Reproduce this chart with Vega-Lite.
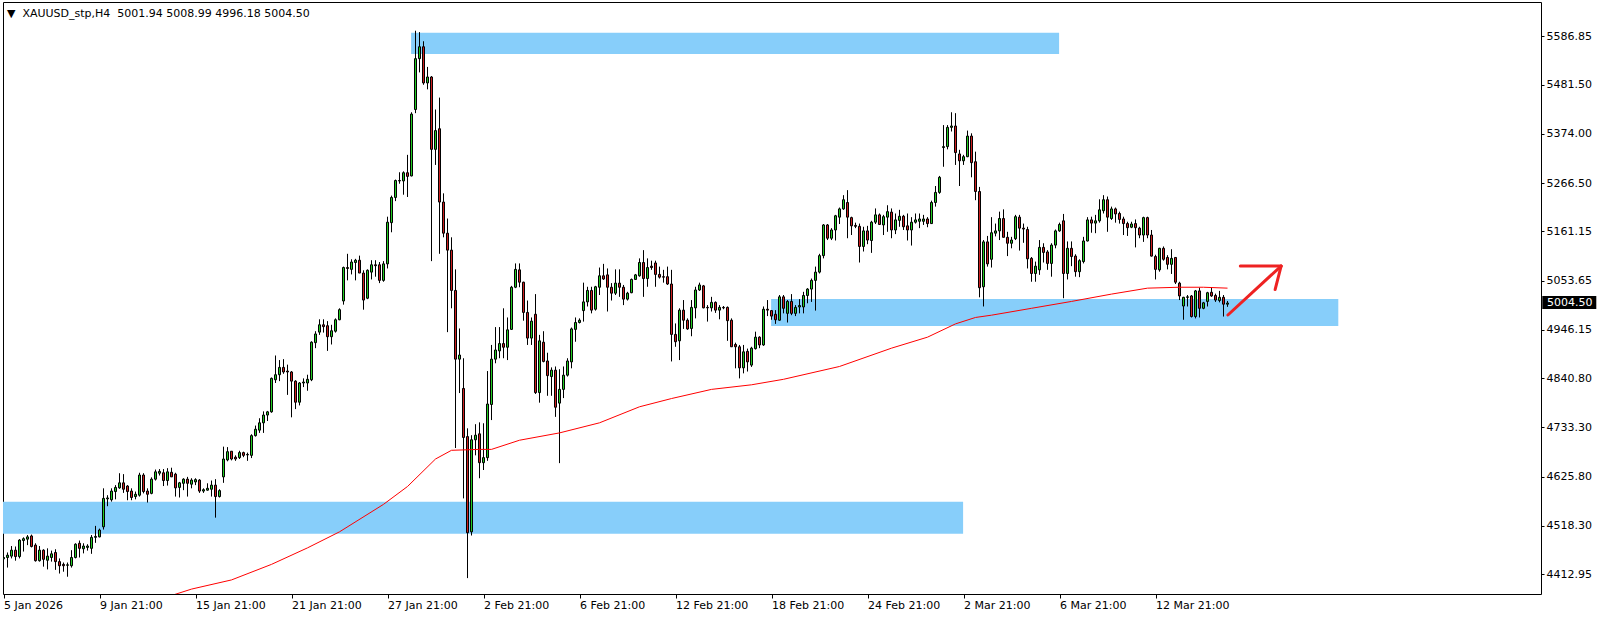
{
"$schema":"https://vega.github.io/schema/vega-lite/v6.json",
"width":1538,"height":592,
"autosize":{"type":"none"},
"padding":{"left":3,"top":2,"right":63,"bottom":23},
"background":"white",
"config":{"view":{"stroke":"black","strokeWidth":1},"font":"DejaVu Sans","scale":{"continuousPadding":0}},
"title":{"text":"▼ \u00a0XAUUSD_stp,H4 \u00a05001.94 5008.99 4996.18 5004.50","anchor":"start","frame":"group","offset":-17,"dx":4,"fontSize":11,"font":"DejaVu Sans","fontWeight":"normal","color":"black"},
"datasets":{
"zones":[{"i":101.9,"i2":263.9,"t":5594.7,"b":5548.2},{"i":-0.2,"i2":239.9,"t":4570.8,"b":4500.9},{"i":191.9,"i2":333.7,"t":5013.3,"b":4954.4}],
"arrow":[{"i":306.1,"p":4978.4,"i2":319.4,"p2":5085.3},{"i":309.2,"p":5085.3,"i2":319.4,"p2":5085.3},{"i":319.4,"p":5085.3,"i2":317.9,"p2":5034}],
"tag":[{"a":384.7,"b":398.2,"t":5019.9,"u":4991.5,"tx":385.9,"p":5004.5,"label":"5004.50"}],
"ma":[{"i":42,"v":4366},{"i":47,"v":4380},{"i":57,"v":4400},{"i":67,"v":4434},{"i":76,"v":4470},{"i":84,"v":4505},{"i":95,"v":4565},{"i":101,"v":4604},{"i":108,"v":4664},{"i":112,"v":4683},{"i":119,"v":4685},{"i":122,"v":4685},{"i":129,"v":4705},{"i":139,"v":4721},{"i":149,"v":4743},{"i":159,"v":4778},{"i":167,"v":4796},{"i":177,"v":4816},{"i":187,"v":4826},{"i":195,"v":4838},{"i":209,"v":4866},{"i":222,"v":4906},{"i":231,"v":4930},{"i":238,"v":4959},{"i":243,"v":4973},{"i":247,"v":4978},{"i":257,"v":4993},{"i":267,"v":5008},{"i":277,"v":5024},{"i":286,"v":5037},{"i":294,"v":5039},{"i":300,"v":5039},{"i":306,"v":5037}],
"candles":[
{"i":0,"o":4446,"h":4452,"l":4432,"c":4449},
{"i":1,"o":4449,"h":4460,"l":4427,"c":4454},
{"i":2,"o":4452,"h":4474,"l":4447,"c":4465},
{"i":3,"o":4465,"h":4473,"l":4442,"c":4451},
{"i":4,"o":4451,"h":4489,"l":4447,"c":4487},
{"i":5,"o":4486,"h":4493,"l":4462,"c":4490},
{"i":6,"o":4489,"h":4498,"l":4476,"c":4494},
{"i":7,"o":4496,"h":4499,"l":4471,"c":4473},
{"i":8,"o":4476,"h":4480,"l":4440,"c":4442},
{"i":9,"o":4442,"h":4474,"l":4440,"c":4465},
{"i":10,"o":4465,"h":4467,"l":4429,"c":4445},
{"i":11,"o":4443,"h":4469,"l":4423,"c":4452},
{"i":12,"o":4449,"h":4464,"l":4440,"c":4457},
{"i":13,"o":4460,"h":4467,"l":4422,"c":4440},
{"i":14,"o":4440,"h":4447,"l":4414,"c":4431},
{"i":15,"o":4434,"h":4438,"l":4418,"c":4431},
{"i":16,"o":4432,"h":4438,"l":4407,"c":4433},
{"i":17,"o":4431,"h":4465,"l":4427,"c":4449},
{"i":18,"o":4449,"h":4480,"l":4447,"c":4478},
{"i":19,"o":4480,"h":4486,"l":4449,"c":4469},
{"i":20,"o":4468,"h":4480,"l":4458,"c":4474},
{"i":21,"o":4471,"h":4478,"l":4464,"c":4474},
{"i":22,"o":4469,"h":4498,"l":4457,"c":4493},
{"i":23,"o":4493,"h":4518,"l":4481,"c":4495},
{"i":24,"o":4494,"h":4512,"l":4493,"c":4509},
{"i":25,"o":4516,"h":4600,"l":4510,"c":4578},
{"i":26,"o":4577,"h":4585,"l":4561,"c":4579},
{"i":27,"o":4575,"h":4600,"l":4571,"c":4594},
{"i":28,"o":4593,"h":4607,"l":4576,"c":4602},
{"i":29,"o":4601,"h":4633,"l":4599,"c":4612},
{"i":30,"o":4612,"h":4631,"l":4590,"c":4598},
{"i":31,"o":4605,"h":4607,"l":4574,"c":4593},
{"i":32,"o":4594,"h":4600,"l":4574,"c":4580},
{"i":33,"o":4582,"h":4593,"l":4576,"c":4587},
{"i":34,"o":4585,"h":4634,"l":4582,"c":4629},
{"i":35,"o":4629,"h":4633,"l":4589,"c":4593},
{"i":36,"o":4594,"h":4600,"l":4569,"c":4587},
{"i":37,"o":4589,"h":4624,"l":4587,"c":4620},
{"i":38,"o":4620,"h":4641,"l":4617,"c":4636},
{"i":39,"o":4633,"h":4642,"l":4628,"c":4637},
{"i":40,"o":4634,"h":4642,"l":4605,"c":4617},
{"i":41,"o":4617,"h":4644,"l":4606,"c":4636},
{"i":42,"o":4635,"h":4645,"l":4625,"c":4625},
{"i":43,"o":4631,"h":4634,"l":4582,"c":4601},
{"i":44,"o":4602,"h":4614,"l":4580,"c":4612},
{"i":45,"o":4611,"h":4622,"l":4596,"c":4620},
{"i":46,"o":4620,"h":4625,"l":4582,"c":4611},
{"i":47,"o":4609,"h":4622,"l":4600,"c":4618},
{"i":48,"o":4614,"h":4622,"l":4607,"c":4619},
{"i":49,"o":4618,"h":4620,"l":4590,"c":4594},
{"i":50,"o":4594,"h":4600,"l":4590,"c":4597},
{"i":51,"o":4596,"h":4611,"l":4595,"c":4600},
{"i":52,"o":4598,"h":4617,"l":4582,"c":4607},
{"i":53,"o":4607,"h":4620,"l":4536,"c":4582},
{"i":54,"o":4582,"h":4598,"l":4580,"c":4595},
{"i":55,"o":4625,"h":4691,"l":4612,"c":4664},
{"i":56,"o":4662,"h":4690,"l":4659,"c":4680},
{"i":57,"o":4681,"h":4681,"l":4661,"c":4664},
{"i":58,"o":4668,"h":4672,"l":4660,"c":4664},
{"i":59,"o":4667,"h":4682,"l":4664,"c":4678},
{"i":60,"o":4678,"h":4680,"l":4668,"c":4672},
{"i":61,"o":4673,"h":4678,"l":4660,"c":4674},
{"i":62,"o":4672,"h":4718,"l":4666,"c":4715},
{"i":63,"o":4715,"h":4737,"l":4713,"c":4729},
{"i":64,"o":4727,"h":4753,"l":4721,"c":4743},
{"i":65,"o":4743,"h":4768,"l":4721,"c":4760},
{"i":66,"o":4760,"h":4769,"l":4747,"c":4767},
{"i":67,"o":4767,"h":4842,"l":4765,"c":4840},
{"i":68,"o":4837,"h":4890,"l":4830,"c":4848},
{"i":69,"o":4848,"h":4880,"l":4834,"c":4864},
{"i":70,"o":4864,"h":4882,"l":4850,"c":4854},
{"i":71,"o":4856,"h":4870,"l":4804,"c":4854},
{"i":72,"o":4854,"h":4856,"l":4755,"c":4834},
{"i":73,"o":4834,"h":4836,"l":4773,"c":4788},
{"i":74,"o":4788,"h":4832,"l":4781,"c":4830},
{"i":75,"o":4830,"h":4840,"l":4821,"c":4832},
{"i":76,"o":4830,"h":4848,"l":4813,"c":4838},
{"i":77,"o":4837,"h":4921,"l":4834,"c":4919},
{"i":78,"o":4918,"h":4943,"l":4906,"c":4937},
{"i":79,"o":4941,"h":4969,"l":4935,"c":4957},
{"i":80,"o":4957,"h":4969,"l":4940,"c":4953},
{"i":81,"o":4955,"h":4965,"l":4900,"c":4931},
{"i":82,"o":4931,"h":4957,"l":4914,"c":4944},
{"i":83,"o":4943,"h":4971,"l":4940,"c":4968},
{"i":84,"o":4968,"h":4993,"l":4967,"c":4990},
{"i":85,"o":5009,"h":5084,"l":5001,"c":5082},
{"i":86,"o":5082,"h":5112,"l":5054,"c":5080},
{"i":87,"o":5078,"h":5100,"l":5067,"c":5094},
{"i":88,"o":5093,"h":5101,"l":5054,"c":5098},
{"i":89,"o":5098,"h":5108,"l":5070,"c":5070},
{"i":90,"o":5070,"h":5076,"l":4990,"c":5011},
{"i":91,"o":5015,"h":5078,"l":5013,"c":5076},
{"i":92,"o":5072,"h":5098,"l":5056,"c":5088},
{"i":93,"o":5088,"h":5098,"l":5062,"c":5086},
{"i":94,"o":5088,"h":5094,"l":5048,"c":5054},
{"i":95,"o":5054,"h":5096,"l":5051,"c":5090},
{"i":96,"o":5090,"h":5193,"l":5080,"c":5181},
{"i":97,"o":5180,"h":5239,"l":5159,"c":5235},
{"i":98,"o":5235,"h":5274,"l":5227,"c":5272},
{"i":99,"o":5271,"h":5290,"l":5265,"c":5272},
{"i":100,"o":5271,"h":5292,"l":5241,"c":5289},
{"i":101,"o":5289,"h":5328,"l":5236,"c":5281},
{"i":102,"o":5282,"h":5421,"l":5281,"c":5417},
{"i":103,"o":5427,"h":5599,"l":5419,"c":5538},
{"i":104,"o":5538,"h":5596,"l":5508,"c":5564},
{"i":105,"o":5564,"h":5576,"l":5481,"c":5485},
{"i":106,"o":5485,"h":5520,"l":5471,"c":5498},
{"i":107,"o":5498,"h":5500,"l":5096,"c":5340},
{"i":108,"o":5340,"h":5427,"l":5306,"c":5381},
{"i":109,"o":5385,"h":5453,"l":5112,"c":5225},
{"i":110,"o":5225,"h":5244,"l":5148,"c":5157},
{"i":111,"o":5157,"h":5189,"l":4941,"c":5120},
{"i":112,"o":5120,"h":5148,"l":4993,"c":5032},
{"i":113,"o":5032,"h":5078,"l":4688,"c":4882},
{"i":114,"o":4882,"h":4949,"l":4808,"c":4891},
{"i":115,"o":4818,"h":4884,"l":4578,"c":4711},
{"i":116,"o":4713,"h":4731,"l":4404,"c":4503},
{"i":117,"o":4505,"h":4716,"l":4497,"c":4706},
{"i":118,"o":4706,"h":4740,"l":4672,"c":4716},
{"i":119,"o":4719,"h":4744,"l":4622,"c":4656},
{"i":120,"o":4656,"h":4742,"l":4640,"c":4667},
{"i":121,"o":4667,"h":4856,"l":4660,"c":4784},
{"i":122,"o":4783,"h":4913,"l":4749,"c":4882},
{"i":123,"o":4882,"h":4952,"l":4873,"c":4902},
{"i":124,"o":4900,"h":4952,"l":4884,"c":4916},
{"i":125,"o":4916,"h":4993,"l":4884,"c":4908},
{"i":126,"o":4908,"h":4973,"l":4880,"c":4946},
{"i":127,"o":4947,"h":5042,"l":4946,"c":5039},
{"i":128,"o":5039,"h":5091,"l":5037,"c":5078},
{"i":129,"o":5077,"h":5091,"l":5039,"c":5050},
{"i":130,"o":5050,"h":5051,"l":4966,"c":4984},
{"i":131,"o":4984,"h":5010,"l":4913,"c":4928},
{"i":132,"o":4928,"h":4973,"l":4913,"c":4965},
{"i":133,"o":4980,"h":5024,"l":4806,"c":4809},
{"i":134,"o":4809,"h":4935,"l":4787,"c":4922},
{"i":135,"o":4919,"h":4943,"l":4875,"c":4877},
{"i":136,"o":4878,"h":4896,"l":4802,"c":4846},
{"i":137,"o":4844,"h":4864,"l":4802,"c":4858},
{"i":138,"o":4858,"h":4866,"l":4756,"c":4777},
{"i":139,"o":4786,"h":4860,"l":4655,"c":4816},
{"i":140,"o":4816,"h":4866,"l":4797,"c":4847},
{"i":141,"o":4847,"h":4884,"l":4844,"c":4878},
{"i":142,"o":4876,"h":4951,"l":4862,"c":4948},
{"i":143,"o":4947,"h":4973,"l":4920,"c":4962},
{"i":144,"o":4962,"h":4971,"l":4960,"c":4967},
{"i":145,"o":4988,"h":5049,"l":4964,"c":5007},
{"i":146,"o":5007,"h":5040,"l":4997,"c":5032},
{"i":147,"o":5032,"h":5040,"l":4982,"c":4989},
{"i":148,"o":4991,"h":5042,"l":4988,"c":5040},
{"i":149,"o":5039,"h":5082,"l":5022,"c":5064},
{"i":150,"o":5064,"h":5090,"l":5055,"c":5057},
{"i":151,"o":5066,"h":5080,"l":4986,"c":5039},
{"i":152,"o":5039,"h":5048,"l":5010,"c":5026},
{"i":153,"o":5026,"h":5078,"l":5022,"c":5048},
{"i":154,"o":5048,"h":5078,"l":5018,"c":5039},
{"i":155,"o":5039,"h":5044,"l":5000,"c":5013},
{"i":156,"o":5013,"h":5029,"l":5010,"c":5026},
{"i":157,"o":5027,"h":5058,"l":5026,"c":5056},
{"i":158,"o":5056,"h":5068,"l":5055,"c":5066},
{"i":159,"o":5064,"h":5102,"l":5062,"c":5093},
{"i":160,"o":5093,"h":5120,"l":5018,"c":5058},
{"i":161,"o":5058,"h":5102,"l":5040,"c":5082},
{"i":162,"o":5085,"h":5097,"l":5077,"c":5082},
{"i":163,"o":5092,"h":5097,"l":5040,"c":5067},
{"i":164,"o":5067,"h":5084,"l":5058,"c":5061},
{"i":165,"o":5062,"h":5077,"l":5049,"c":5061},
{"i":166,"o":5062,"h":5084,"l":5044,"c":5046},
{"i":167,"o":5046,"h":5077,"l":4877,"c":4936},
{"i":168,"o":4936,"h":4960,"l":4909,"c":4920},
{"i":169,"o":4922,"h":4993,"l":4880,"c":4989},
{"i":170,"o":4989,"h":5011,"l":4948,"c":4967},
{"i":171,"o":4967,"h":4971,"l":4946,"c":4948},
{"i":172,"o":4949,"h":5011,"l":4932,"c":4995},
{"i":173,"o":4994,"h":5040,"l":4971,"c":5033},
{"i":174,"o":5033,"h":5049,"l":5031,"c":5044},
{"i":175,"o":5042,"h":5044,"l":4993,"c":4994},
{"i":176,"o":4995,"h":5000,"l":4964,"c":4994},
{"i":177,"o":4994,"h":5018,"l":4986,"c":5006},
{"i":178,"o":5006,"h":5008,"l":4983,"c":4989},
{"i":179,"o":4989,"h":5000,"l":4969,"c":4995},
{"i":180,"o":4995,"h":4998,"l":4991,"c":4994},
{"i":181,"o":4995,"h":4997,"l":4922,"c":4966},
{"i":182,"o":4967,"h":4971,"l":4909,"c":4909},
{"i":183,"o":4914,"h":4918,"l":4862,"c":4909},
{"i":184,"o":4909,"h":4913,"l":4840,"c":4863},
{"i":185,"o":4863,"h":4913,"l":4851,"c":4898},
{"i":186,"o":4899,"h":4905,"l":4855,"c":4876},
{"i":187,"o":4869,"h":4909,"l":4865,"c":4906},
{"i":188,"o":4905,"h":4942,"l":4903,"c":4930},
{"i":189,"o":4930,"h":4932,"l":4906,"c":4913},
{"i":190,"o":4913,"h":4997,"l":4911,"c":4991},
{"i":191,"o":4991,"h":5011,"l":4976,"c":4989},
{"i":192,"o":4988,"h":4989,"l":4968,"c":4976},
{"i":193,"o":4980,"h":4989,"l":4959,"c":4968},
{"i":194,"o":4967,"h":5022,"l":4966,"c":5018},
{"i":195,"o":5018,"h":5022,"l":4982,"c":4993},
{"i":196,"o":4982,"h":5011,"l":4962,"c":5008},
{"i":197,"o":5008,"h":5024,"l":4978,"c":4982},
{"i":198,"o":4982,"h":5000,"l":4976,"c":4995},
{"i":199,"o":4996,"h":5013,"l":4982,"c":4999},
{"i":200,"o":4996,"h":5029,"l":4982,"c":5021},
{"i":201,"o":5021,"h":5037,"l":5004,"c":5035},
{"i":202,"o":5035,"h":5058,"l":5007,"c":5054},
{"i":203,"o":5054,"h":5084,"l":4988,"c":5072},
{"i":204,"o":5072,"h":5112,"l":5069,"c":5108},
{"i":205,"o":5108,"h":5177,"l":5102,"c":5175},
{"i":206,"o":5175,"h":5177,"l":5142,"c":5146},
{"i":207,"o":5146,"h":5168,"l":5142,"c":5164},
{"i":208,"o":5164,"h":5197,"l":5141,"c":5195},
{"i":209,"o":5192,"h":5213,"l":5177,"c":5210},
{"i":210,"o":5210,"h":5240,"l":5208,"c":5230},
{"i":211,"o":5224,"h":5251,"l":5146,"c":5192},
{"i":212,"o":5191,"h":5193,"l":5153,"c":5173},
{"i":213,"o":5174,"h":5180,"l":5168,"c":5172},
{"i":214,"o":5172,"h":5178,"l":5093,"c":5128},
{"i":215,"o":5128,"h":5171,"l":5117,"c":5162},
{"i":216,"o":5162,"h":5173,"l":5133,"c":5142},
{"i":217,"o":5141,"h":5184,"l":5114,"c":5181},
{"i":218,"o":5181,"h":5211,"l":5177,"c":5197},
{"i":219,"o":5197,"h":5200,"l":5175,"c":5176},
{"i":220,"o":5175,"h":5197,"l":5153,"c":5193},
{"i":221,"o":5192,"h":5218,"l":5160,"c":5204},
{"i":222,"o":5203,"h":5211,"l":5146,"c":5164},
{"i":223,"o":5164,"h":5200,"l":5155,"c":5186},
{"i":224,"o":5185,"h":5208,"l":5171,"c":5194},
{"i":225,"o":5194,"h":5197,"l":5164,"c":5171},
{"i":226,"o":5173,"h":5200,"l":5141,"c":5164},
{"i":227,"o":5164,"h":5192,"l":5130,"c":5181},
{"i":228,"o":5181,"h":5200,"l":5178,"c":5186},
{"i":229,"o":5183,"h":5200,"l":5168,"c":5188},
{"i":230,"o":5183,"h":5197,"l":5175,"c":5188},
{"i":231,"o":5188,"h":5192,"l":5170,"c":5178},
{"i":232,"o":5178,"h":5228,"l":5177,"c":5224},
{"i":233,"o":5224,"h":5260,"l":5215,"c":5246},
{"i":234,"o":5246,"h":5282,"l":5243,"c":5279},
{"i":235,"o":5344,"h":5393,"l":5302,"c":5346},
{"i":236,"o":5346,"h":5393,"l":5340,"c":5388},
{"i":237,"o":5388,"h":5421,"l":5379,"c":5391},
{"i":238,"o":5391,"h":5419,"l":5306,"c":5333},
{"i":239,"o":5330,"h":5339,"l":5260,"c":5315},
{"i":240,"o":5315,"h":5328,"l":5306,"c":5324},
{"i":241,"o":5324,"h":5381,"l":5323,"c":5369},
{"i":242,"o":5369,"h":5375,"l":5279,"c":5311},
{"i":243,"o":5313,"h":5335,"l":5229,"c":5248},
{"i":244,"o":5248,"h":5258,"l":5017,"c":5038},
{"i":245,"o":5040,"h":5142,"l":4997,"c":5138},
{"i":246,"o":5138,"h":5151,"l":5084,"c":5090},
{"i":247,"o":5100,"h":5192,"l":5082,"c":5158},
{"i":248,"o":5157,"h":5178,"l":5150,"c":5162},
{"i":249,"o":5162,"h":5204,"l":5142,"c":5189},
{"i":250,"o":5189,"h":5209,"l":5148,"c":5148},
{"i":251,"o":5148,"h":5160,"l":5107,"c":5135},
{"i":252,"o":5135,"h":5149,"l":5124,"c":5142},
{"i":253,"o":5145,"h":5197,"l":5142,"c":5193},
{"i":254,"o":5192,"h":5197,"l":5119,"c":5168},
{"i":255,"o":5168,"h":5178,"l":5136,"c":5166},
{"i":256,"o":5165,"h":5171,"l":5080,"c":5101},
{"i":257,"o":5102,"h":5105,"l":5051,"c":5069},
{"i":258,"o":5069,"h":5095,"l":5051,"c":5085},
{"i":259,"o":5077,"h":5142,"l":5066,"c":5126},
{"i":260,"o":5126,"h":5135,"l":5093,"c":5115},
{"i":261,"o":5116,"h":5120,"l":5077,"c":5091},
{"i":262,"o":5091,"h":5135,"l":5062,"c":5131},
{"i":263,"o":5131,"h":5165,"l":5124,"c":5162},
{"i":264,"o":5162,"h":5180,"l":5160,"c":5176},
{"i":265,"o":5184,"h":5199,"l":5015,"c":5069},
{"i":266,"o":5069,"h":5139,"l":5056,"c":5124},
{"i":267,"o":5124,"h":5139,"l":5085,"c":5106},
{"i":268,"o":5107,"h":5111,"l":5062,"c":5073},
{"i":269,"o":5073,"h":5100,"l":5061,"c":5097},
{"i":270,"o":5095,"h":5149,"l":5091,"c":5140},
{"i":271,"o":5140,"h":5192,"l":5139,"c":5186},
{"i":272,"o":5186,"h":5193,"l":5158,"c":5179},
{"i":273,"o":5179,"h":5197,"l":5157,"c":5184},
{"i":274,"o":5184,"h":5231,"l":5180,"c":5208},
{"i":275,"o":5206,"h":5240,"l":5200,"c":5230},
{"i":276,"o":5230,"h":5237,"l":5160,"c":5192},
{"i":277,"o":5189,"h":5215,"l":5186,"c":5210},
{"i":278,"o":5210,"h":5213,"l":5180,"c":5199},
{"i":279,"o":5200,"h":5204,"l":5178,"c":5187},
{"i":280,"o":5188,"h":5193,"l":5153,"c":5178},
{"i":281,"o":5178,"h":5182,"l":5151,"c":5169},
{"i":282,"o":5170,"h":5182,"l":5168,"c":5177},
{"i":283,"o":5178,"h":5187,"l":5126,"c":5169},
{"i":284,"o":5168,"h":5171,"l":5146,"c":5153},
{"i":285,"o":5153,"h":5193,"l":5138,"c":5191},
{"i":286,"o":5191,"h":5193,"l":5146,"c":5153},
{"i":287,"o":5153,"h":5164,"l":5106,"c":5107},
{"i":288,"o":5106,"h":5110,"l":5056,"c":5078},
{"i":289,"o":5077,"h":5125,"l":5073,"c":5124},
{"i":290,"o":5124,"h":5128,"l":5097,"c":5100},
{"i":291,"o":5104,"h":5109,"l":5078,"c":5089},
{"i":292,"o":5089,"h":5122,"l":5068,"c":5102},
{"i":293,"o":5104,"h":5104,"l":5046,"c":5050},
{"i":294,"o":5048,"h":5051,"l":5011,"c":5020},
{"i":295,"o":4998,"h":5018,"l":4968,"c":5017},
{"i":296,"o":5017,"h":5022,"l":4997,"c":5018},
{"i":297,"o":5020,"h":5022,"l":4973,"c":4975},
{"i":298,"o":4975,"h":5033,"l":4971,"c":5031},
{"i":299,"o":5031,"h":5038,"l":4973,"c":4993},
{"i":300,"o":4993,"h":5007,"l":4991,"c":5005},
{"i":301,"o":5008,"h":5029,"l":4997,"c":5027},
{"i":302,"o":5028,"h":5039,"l":5018,"c":5020},
{"i":303,"o":5021,"h":5025,"l":5007,"c":5011},
{"i":304,"o":5010,"h":5031,"l":5006,"c":5017},
{"i":305,"o":5017,"h":5022,"l":4975,"c":5002},
{"i":306,"o":5001.94,"h":5008.99,"l":4996.18,"c":5004.50}
]},
"layer":[
{"data":{"name":"zones"},"mark":{"type":"rect","color":"#87cefa","clip":true},
 "encoding":{
  "x":{"field":"i","type":"quantitative","title":null,"scale":{"domain":[-0.125,384.375],"nice":false,"zero":false,"padding":0},
   "axis":{"values":[0,24,48,72,96,120,144,168,192,216,240,264,288],"labelExpr":"['5 Jan 2026','9 Jan 21:00','15 Jan 21:00','21 Jan 21:00','27 Jan 21:00','2 Feb 21:00','6 Feb 21:00','12 Feb 21:00','18 Feb 21:00','24 Feb 21:00','2 Mar 21:00','6 Mar 21:00','12 Mar 21:00'][round(datum.value/24)]","labelAlign":"left","labelFont":"DejaVu Sans","labelFontSize":11,"labelColor":"black","labelPadding":1,"tickSize":4,"tickColor":"black","domain":false,"grid":false,"labelOverlap":false,"labelBound":false,"labelFlush":false,"title":null}},
  "x2":{"field":"i2"},
  "y":{"field":"t","type":"quantitative","title":null,"scale":{"domain":[4369.3,5661.7],"nice":false,"zero":false},
   "axis":{"orient":"right","values":[5586.85,5481.5,5374.0,5266.5,5161.15,5053.65,4946.15,4840.8,4733.3,4625.8,4518.3,4412.95],"format":".2f","labelFont":"DejaVu Sans","labelFontSize":11,"labelColor":"black","labelPadding":2,"tickSize":3,"tickColor":"black","domain":false,"grid":false,"labelOverlap":false,"labelBound":false,"labelFlush":false,"title":null}},
  "y2":{"field":"b"}}},
{"data":{"name":"candles"},"mark":{"type":"rule","color":"black","strokeWidth":1,"clip":true},
 "encoding":{"x":{"field":"i","type":"quantitative","title":null,"scale":{"domain":[-0.125,384.375],"nice":false,"zero":false,"padding":0}},
  "y":{"field":"l","type":"quantitative","title":null,"scale":{"domain":[4369.3,5661.7],"nice":false,"zero":false}},
  "y2":{"field":"h"}}},
{"data":{"name":"candles"},"mark":{"type":"bar","orient":"vertical","size":2,"stroke":"black","strokeWidth":1,"clip":true},
 "encoding":{"x":{"field":"i","type":"quantitative","title":null,"scale":{"domain":[-0.125,384.375],"nice":false,"zero":false,"padding":0}},
  "y":{"field":"o","type":"quantitative","title":null,"scale":{"domain":[4369.3,5661.7],"nice":false,"zero":false}},
  "y2":{"field":"c"},
  "color":{"condition":{"test":"datum.c >= datum.o","value":"#22cc22"},"value":"#cc1f1f"}}},
{"data":{"name":"ma"},"mark":{"type":"line","color":"#ff0000","strokeWidth":1,"clip":true},
 "encoding":{"x":{"field":"i","type":"quantitative","title":null,"scale":{"domain":[-0.125,384.375],"nice":false,"zero":false,"padding":0}},
  "y":{"field":"v","type":"quantitative","title":null,"scale":{"domain":[4369.3,5661.7],"nice":false,"zero":false}}}},
{"data":{"name":"arrow"},"mark":{"type":"rule","color":"#ee2222","strokeWidth":3,"strokeCap":"round"},
 "encoding":{"x":{"field":"i","type":"quantitative","title":null,"scale":{"domain":[-0.125,384.375],"nice":false,"zero":false,"padding":0}},
  "x2":{"field":"i2"},
  "y":{"field":"p","type":"quantitative","title":null,"scale":{"domain":[4369.3,5661.7],"nice":false,"zero":false}},
  "y2":{"field":"p2"}}},
{"data":{"name":"tag"},"mark":{"type":"rect","color":"black"},
 "encoding":{"x":{"field":"a","type":"quantitative","title":null,"scale":{"domain":[-0.125,384.375],"nice":false,"zero":false,"padding":0}},
  "x2":{"field":"b"},
  "y":{"field":"t","type":"quantitative","title":null,"scale":{"domain":[4369.3,5661.7],"nice":false,"zero":false}},
  "y2":{"field":"u"}}},
{"data":{"name":"tag"},"mark":{"type":"text","color":"white","align":"left","baseline":"middle","font":"DejaVu Sans","fontSize":11},
 "encoding":{"x":{"field":"tx","type":"quantitative","title":null,"scale":{"domain":[-0.125,384.375],"nice":false,"zero":false,"padding":0}},
  "y":{"field":"p","type":"quantitative","title":null,"scale":{"domain":[4369.3,5661.7],"nice":false,"zero":false}},
  "text":{"field":"label"}}}
]
}
